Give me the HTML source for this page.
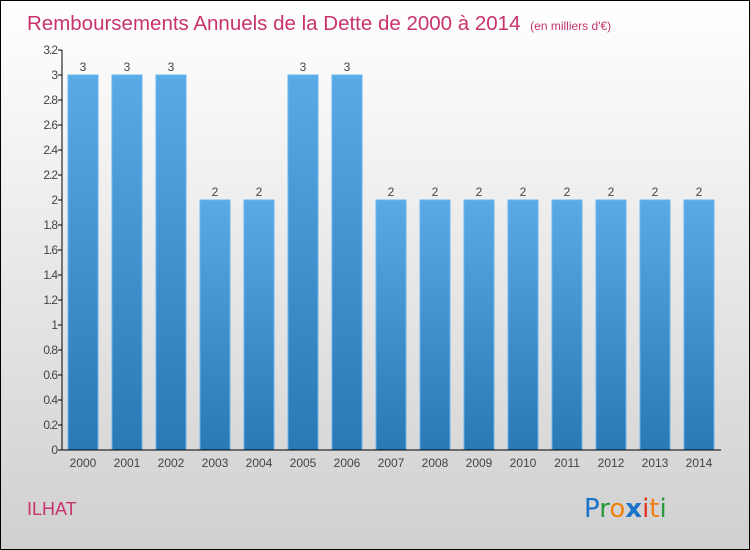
<!DOCTYPE html>
<html><head><meta charset="utf-8"><style>
body{margin:0}
#c{width:748px;height:548px;border:1px solid #000;background:linear-gradient(#ffffff,#d0d0d0);position:relative;overflow:hidden;font-family:"Liberation Sans",sans-serif}
</style></head><body>
<div id="c">
<svg id="s" width="748" height="548" xmlns="http://www.w3.org/2000/svg">
<defs><linearGradient id="g" x1="0" y1="0" x2="0" y2="1"><stop offset="0" stop-color="#5aaae6"/><stop offset="1" stop-color="#2a78b4"/></linearGradient></defs>
<text x="26" y="29" font-size="20.5" fill="#c8336e">Remboursements Annuels de la Dette de 2000 à 2014 <tspan font-size="12" dx="4">(en milliers d'€)</tspan></text>
<text x="26" y="514" font-size="18" fill="#c8336e">ILHAT</text>
<g font-size="26" font-family="'DejaVu Sans',sans-serif">
<text x="583" y="516"><tspan fill="#1a73c8">P</tspan><tspan fill="#2a9a3a">r</tspan><tspan fill="#f08010">o</tspan><tspan fill="#1a73c8" font-weight="bold">x</tspan><tspan fill="#e03020">i</tspan><tspan fill="#f08010">t</tspan><tspan fill="#2a9a3a">i</tspan></text></g>
<g id="plot"></g>
</svg></div>
<script>
const years=["2000","2001","2002","2003","2004","2005","2006","2007","2008","2009","2010","2011","2012","2013","2014"];
const values=[3,3,3,2,2,3,3,2,2,2,2,2,2,2,2];
const ticks=[0,0.2,0.4,0.6,0.8,1,1.2,1.4,1.6,1.8,2,2.2,2.4,2.6,2.8,3,3.2];
const tickLabels=["0","0.2","0.4","0.6","0.8","1","1.2","1.4","1.6","1.8","2","2.2","2.4","2.6","2.8","3","3.2"];
const NS="http://www.w3.org/2000/svg";
const p=document.getElementById('plot');
const y=v=>449-v*125;
const x=i=>82+i*44;
function mk(t,a){const e=document.createElementNS(NS,t);for(const k in a)e.setAttribute(k,a[k]);p.appendChild(e);return e;}
values.forEach((v,i)=>{
 const r=mk('rect',{x:x(i)-15,y:y(v),width:30,height:y(0)-y(v),fill:'url(#g)',stroke:'#6ab4ee','stroke-width':1});
 
 
 const t=mk('text',{x:x(i),y:y(v)-4,'text-anchor':'middle','font-size':12,fill:'#444'});t.textContent=v;
 
 
 const l=mk('text',{x:x(i),y:466,'text-anchor':'middle','font-size':12,fill:'#444'});l.textContent=years[i];
 
 
});
ticks.forEach((v,i)=>{
 mk('line',{x1:57,x2:61,y1:y(v),y2:y(v),stroke:'#000'});
 const t=mk('text',{x:56,y:y(v)+4,'text-anchor':'end','font-size':12,fill:'#444','letter-spacing':'-1'});t.textContent=tickLabels[i];
 
 
});
const ya=mk('line',{x1:61,x2:61,y1:y(3.2),y2:y(0),stroke:'#000'});


const xa=mk('line',{x1:61,x2:720,y1:y(0),y2:y(0),stroke:'#000'});


</script>
</body></html>
